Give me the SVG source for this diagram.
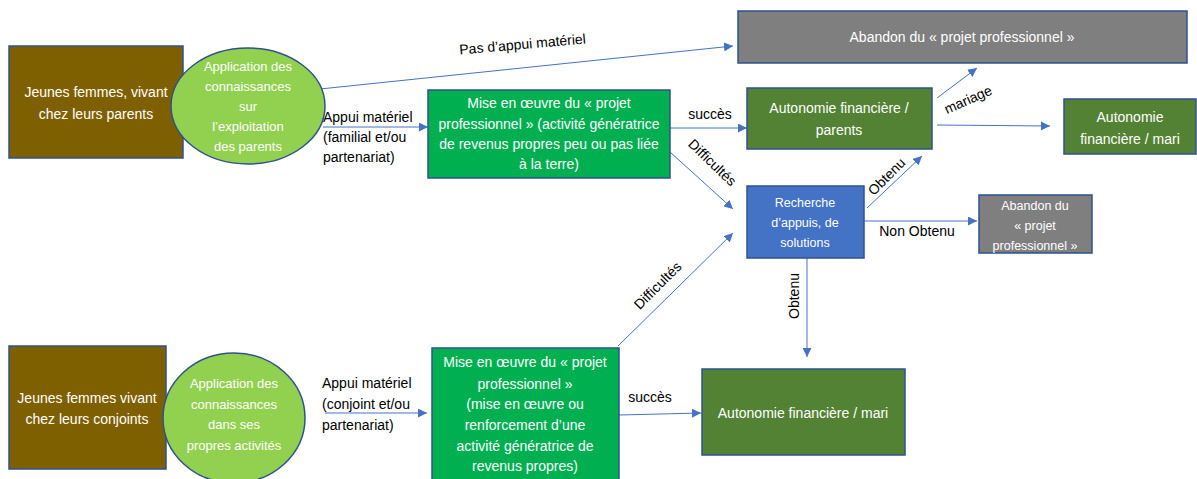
<svg xmlns="http://www.w3.org/2000/svg" width="1197" height="479" viewBox="0 0 1197 479">
  <defs>
    <marker id="arr" viewBox="0 0 10 10" refX="10" refY="5" markerWidth="9" markerHeight="9" markerUnits="userSpaceOnUse" orient="auto">
      <path d="M0,0 L10,5 L0,10 z" fill="#4472C4"/>
    </marker>
    <style>
      .node { stroke: #2F528F; stroke-width: 1.5; }
      .brown { fill: #7F6000; }
      .lime { fill: #92D050; }
      .green { fill: #00B050; }
      .olive { fill: #548235; }
      .grey { fill: #7F7F7F; }
      .blue { fill: #4472C4; }
      .nt { font-family: "Liberation Sans", Arial, sans-serif; font-size: 14px; fill: #ffffff; text-anchor: middle; }
      .el { font-size: 13px; }
      .sm { font-size: 12.5px; }
      .lbl { font-family: "Liberation Sans", Arial, sans-serif; font-size: 14px; fill: #000000; }
      .edge { stroke: #4472C4; stroke-width: 1; fill: none; marker-end: url(#arr); }
    </style>
  </defs>
  <rect width="1197" height="479" fill="#ffffff"/>

  <!-- connectors -->
  <g id="connectors">
    <line class="edge" x1="320" y1="89" x2="733" y2="46"/>
    <line class="edge" x1="323" y1="127" x2="428" y2="127"/>
    <line class="edge" x1="670" y1="128" x2="747" y2="128"/>
    <line class="edge" x1="670" y1="152" x2="733" y2="209"/>
    <line class="edge" x1="937" y1="98" x2="977" y2="68"/>
    <line class="edge" x1="937" y1="125" x2="1050" y2="126"/>
    <line class="edge" x1="867" y1="208" x2="922" y2="156"/>
    <line class="edge" x1="864" y1="221" x2="977" y2="221"/>
    <line class="edge" x1="807" y1="258" x2="807" y2="357"/>
    <line class="edge" x1="618" y1="346" x2="733" y2="233"/>
    <line class="edge" x1="619" y1="415" x2="701" y2="413"/>
    <line class="edge" x1="325" y1="413" x2="427" y2="413"/>

    <text class="lbl" transform="translate(523,49) rotate(-5)" text-anchor="middle">Pas d’appui matériel</text>
    <text class="lbl" x="323" y="122">Appui matériel</text>
    <text class="lbl" x="323" y="142">(familial et/ou</text>
    <text class="lbl" x="323" y="162">partenariat)</text>
    <text class="lbl" x="710" y="119" text-anchor="middle">succès</text>
    <text class="lbl" transform="translate(709,166) rotate(44)" text-anchor="middle">Difficultés</text>
    <text class="lbl" transform="translate(970,104) rotate(-24)" text-anchor="middle">mariage</text>
    <text class="lbl" transform="translate(890,180) rotate(-45)" text-anchor="middle">Obtenu</text>
    <text class="lbl" x="917" y="236" text-anchor="middle">Non Obtenu</text>
    <text class="lbl" transform="translate(799,296) rotate(-90)" text-anchor="middle">Obtenu</text>
    <text class="lbl" transform="translate(661,289) rotate(-45)" text-anchor="middle">Difficultés</text>
    <text class="lbl" x="322" y="388">Appui matériel</text>
    <text class="lbl" x="322" y="409">(conjoint et/ou</text>
    <text class="lbl" x="322" y="430">partenariat)</text>
    <text class="lbl" x="650" y="402" text-anchor="middle">succès</text>
  </g>

  <!-- upper branch: living with parents -->
  <g id="femmes-parents">
    <rect class="node brown" x="9" y="46" width="174" height="112"/>
    <text class="nt" x="96" y="97">Jeunes femmes, vivant</text>
    <text class="nt" x="96" y="119">chez leurs parents</text>
  </g>
  <g id="application-exploitation">
    <ellipse class="node lime" cx="248" cy="106" rx="77" ry="58"/>
    <text class="nt el" x="248" y="71">Application des</text>
    <text class="nt el" x="248" y="91">connaissances</text>
    <text class="nt el" x="248" y="111">sur</text>
    <text class="nt el" x="248" y="131">l’exploitation</text>
    <text class="nt el" x="248" y="151">des parents</text>
  </g>
  <g id="projet-parents">
    <rect class="node green" x="428" y="90" width="242" height="88"/>
    <text class="nt" x="549" y="108">Mise en œuvre du « projet</text>
    <text class="nt" x="549" y="129">professionnel » (activité génératrice</text>
    <text class="nt" x="549" y="149">de revenus propres peu ou pas liée</text>
    <text class="nt" x="549" y="169">à la terre)</text>
  </g>
  <g id="abandon-haut">
    <rect class="node grey" x="738" y="11" width="449" height="52"/>
    <text class="nt" x="962" y="42">Abandon du « projet professionnel »</text>
  </g>
  <g id="autonomie-parents">
    <rect class="node olive" x="747" y="88" width="185" height="61"/>
    <text class="nt" x="839" y="113">Autonomie financière /</text>
    <text class="nt" x="839" y="135">parents</text>
  </g>
  <g id="autonomie-mari-haut">
    <rect class="node olive" x="1064" y="99" width="132" height="55"/>
    <text class="nt" x="1130" y="122">Autonomie</text>
    <text class="nt" x="1130" y="144">financière / mari</text>
  </g>
  <g id="recherche">
    <rect class="node blue" x="747" y="186" width="117" height="72"/>
    <text class="nt sm" x="805" y="207">Recherche</text>
    <text class="nt sm" x="805" y="227">d’appuis, de</text>
    <text class="nt sm" x="805" y="247">solutions</text>
  </g>
  <g id="abandon-petit">
    <rect class="node grey" x="979" y="195" width="113" height="58"/>
    <text class="nt sm" x="1035" y="210">Abandon du</text>
    <text class="nt sm" x="1035" y="230">« projet</text>
    <text class="nt sm" x="1035" y="250">professionnel »</text>
  </g>

  <!-- lower branch: living with spouses -->
  <g id="femmes-conjoints">
    <rect class="node brown" x="9" y="346" width="157" height="123"/>
    <text class="nt" x="87" y="403">Jeunes femmes vivant</text>
    <text class="nt" x="87" y="424">chez leurs conjoints</text>
  </g>
  <g id="application-activites">
    <ellipse class="node lime" cx="234" cy="418" rx="71" ry="65"/>
    <text class="nt el" x="234" y="388">Application des</text>
    <text class="nt el" x="234" y="409">connaissances</text>
    <text class="nt el" x="234" y="429">dans ses</text>
    <text class="nt el" x="234" y="450">propres activités</text>
  </g>
  <g id="projet-conjoints">
    <rect class="node green" x="432" y="348" width="187" height="135"/>
    <text class="nt" x="525" y="367">Mise en œuvre du « projet</text>
    <text class="nt" x="525" y="389">professionnel »</text>
    <text class="nt" x="525" y="409">(mise en œuvre ou</text>
    <text class="nt" x="525" y="430">renforcement d’une</text>
    <text class="nt" x="525" y="451">activité génératrice de</text>
    <text class="nt" x="525" y="471">revenus propres)</text>
  </g>
  <g id="autonomie-mari-bas">
    <rect class="node olive" x="702" y="369" width="203" height="86"/>
    <text class="nt" x="803" y="418">Autonomie financière / mari</text>
  </g>
</svg>
